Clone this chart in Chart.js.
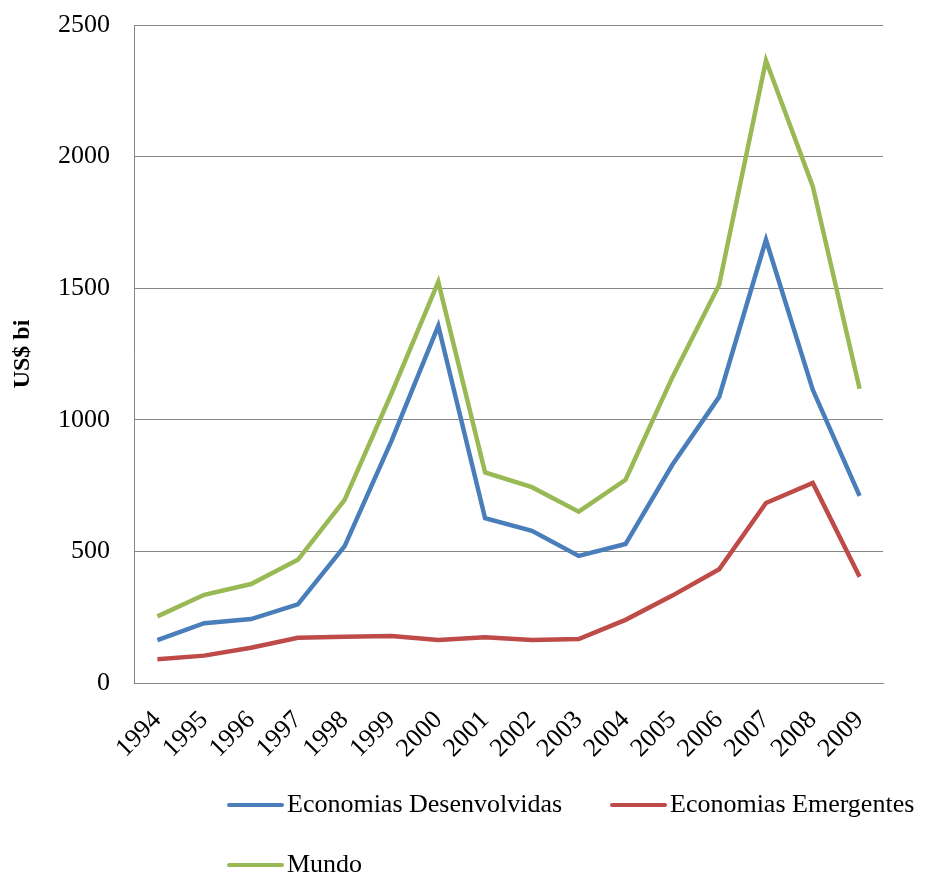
<!DOCTYPE html>
<html>
<head>
<meta charset="utf-8">
<script src="https://cdn.jsdelivr.net/npm/chart.js@4/dist/chart.umd.min.js"></script>
<style>
  html, body { margin: 0; padding: 0; background: #fff; }
  #wrap { width: 926px; height: 876px; position: relative; }
</style>
</head>
<body>
<div id="wrap"><canvas id="c"></canvas></div>
<script>
// Fluxos de investimento, em US$ bilhões
const years = ['1994','1995','1996','1997','1998','1999','2000','2001','2002','2003','2004','2005','2006','2007','2008','2009'];
const desenvolvidas = [163, 227, 243, 299, 520, 920, 1357, 626, 578, 483, 528, 829, 1087, 1684, 1114, 711];
const emergentes    = [90, 104, 134, 172, 176, 179, 163, 174, 163, 167, 240, 332, 432, 684, 760, 404];
const mundo         = [253, 335, 376, 468, 696, 1100, 1524, 800, 744, 651, 772, 1161, 1513, 2365, 1887, 1118];
const yTicks = [0, 500, 1000, 1500, 2000, 2500];
const seriesNames = ['Economias Desenvolvidas', 'Economias Emergentes', 'Mundo'];
const seriesColors = ['#4A7EBB', '#BE4B48', '#98B954'];

const serif = '"Liberation Serif", "Times New Roman", serif';

// Legend drawn in two rows beneath the axis
const legendRows = {
  id: 'legendRows',
  afterDraw(chart) {
    const ctx = chart.ctx;
    const slots = [
      { x: 229, y: 805 },
      { x: 612, y: 805 },
      { x: 229, y: 865 }
    ];
    ctx.save();
    ctx.font = '26px ' + serif;
    ctx.textBaseline = 'middle';
    ctx.fillStyle = '#000';
    chart.data.datasets.forEach((ds, i) => {
      const s = slots[i];
      ctx.strokeStyle = ds.borderColor;
      ctx.lineWidth = 4;
      ctx.lineCap = 'round';
      ctx.beginPath();
      ctx.moveTo(s.x, s.y);
      ctx.lineTo(s.x + 53, s.y);
      ctx.stroke();
      ctx.fillText(ds.label, s.x + 58, s.y);
    });
    ctx.restore();
  }
};

new Chart(document.getElementById('c'), {
  type: 'line',
  data: {
    labels: years,
    datasets: [
      { label: seriesNames[0], data: desenvolvidas, borderColor: seriesColors[0], backgroundColor: seriesColors[0] },
      { label: seriesNames[1], data: emergentes,    borderColor: seriesColors[1], backgroundColor: seriesColors[1] },
      { label: seriesNames[2], data: mundo,         borderColor: seriesColors[2], backgroundColor: seriesColors[2] }
    ].map(d => Object.assign(d, { borderWidth: 4.5, pointRadius: 0, tension: 0, fill: false, borderJoinStyle: 'miter' }))
  },
  options: {
    responsive: true,
    maintainAspectRatio: false,
    animation: false,
    layout: { padding: { top: 25, right: 43, bottom: 0, left: 0 } },
    plugins: {
      legend: { display: false },
      tooltip: { enabled: false }
    },
    scales: {
      x: {
        offset: true,
        grid: { display: false, drawTicks: false },
        border: { display: true, color: '#868686', width: 1 },
        ticks: {
          color: '#000',
          font: { family: serif, size: 26 },
          minRotation: 45,
          maxRotation: 45,
          padding: 22,
          autoSkip: false
        },
        afterFit(scale) { scale.height = 193; scale.paddingLeft = 0; scale.paddingRight = 0; }
      },
      y: {
        min: 0,
        max: 2500,
        afterBuildTicks(scale) { scale.ticks = yTicks.map(v => ({ value: v })); },
        grid: { color: '#868686', lineWidth: 1, drawTicks: false },
        border: { display: true, color: '#868686', width: 1 },
        ticks: {
          color: '#000',
          font: { family: serif, size: 26 },
          padding: 24,
          callback: v => String(v)
        },
        title: {
          display: true,
          text: 'US$ bi',
          color: '#000',
          font: { family: serif, size: 24, weight: 'bold' },
          padding: { top: 8, bottom: 0 }
        },
        afterFit(scale) { scale.width = 134; scale.paddingTop = 0; scale.paddingBottom = 0; }
      }
    }
  },
  plugins: [legendRows]
});
</script>
</body>
</html>
